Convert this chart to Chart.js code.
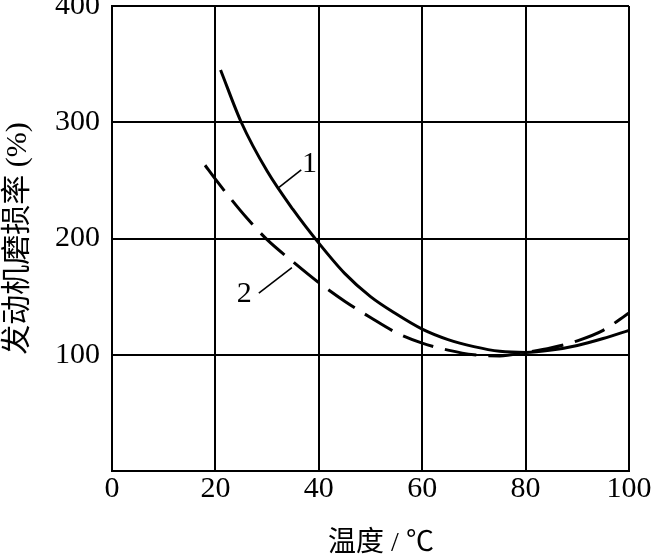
<!DOCTYPE html>
<html>
<head>
<meta charset="utf-8">
<script src="https://cdn.jsdelivr.net/npm/chart.js@4/dist/chart.umd.min.js"></script>
<style>
  body { margin: 0; background: #fff; }
  #wrap { width: 652px; height: 556px; }
</style>
</head>
<body>
<div id="wrap"><canvas id="chart" width="652" height="556"></canvas></div>
<script>
// curve 1 (solid)
const temp1 = [21, 25, 30, 35, 40, 45, 50, 55, 60, 65, 70, 75, 80, 85, 90, 95, 100];
const wear1 = [345, 300, 258, 225, 196, 170, 150, 135, 122, 113, 107, 103, 102, 104, 108, 114, 121];

// curve 2 (dashed)
const temp2 = [18, 20, 23, 26, 30, 35, 40, 45, 50, 55, 60, 65, 70, 75, 80, 85, 90, 95, 100];
const wear2 = [263, 251, 234, 218, 199, 180, 162, 146, 132, 119, 110, 104, 100, 99, 102, 106, 112, 121, 136];

const xTicks = [0, 20, 40, 60, 80, 100];
const yTicks = [100, 200, 300, 400];

// curve labels: [text, label x, label y, leader from x, from y, to x, to y]
const curveLabels = [
    ["1", 38.2, 264, 32.3, 244, 36.6, 259],
    ["2", 25.6, 152, 28.4, 153, 34.8, 175]
];

const serif = "'Liberation Serif', 'DejaVu Serif', serif";
const cjk = "'Liberation Serif', 'Noto Sans CJK SC', serif";

function toPoints(xs, ys){
    return xs.map((x, i) => ({x: x, y: ys[i]}));
}

// =========================
// label plugin
// =========================
const labelPlugin = {
    id: "curveLabels",
    afterDatasetsDraw(chart){
        const ctx = chart.ctx;
        const xs = chart.scales.x;
        const ys = chart.scales.y;
        ctx.save();
        ctx.strokeStyle = "#000";
        ctx.fillStyle = "#000";
        ctx.lineWidth = 1.6;
        ctx.font = "30px " + serif;
        ctx.textAlign = "center";
        ctx.textBaseline = "middle";
        curveLabels.forEach(l => {
            ctx.beginPath();
            ctx.moveTo(xs.getPixelForValue(l[3]), ys.getPixelForValue(l[4]));
            ctx.lineTo(xs.getPixelForValue(l[5]), ys.getPixelForValue(l[6]));
            ctx.stroke();
            ctx.fillText(l[0], xs.getPixelForValue(l[1]), ys.getPixelForValue(l[2]));
        });
        ctx.restore();
    }
};

new Chart(document.getElementById("chart"), {
    type: "line",
    data: {
        datasets: [
            {
                data: toPoints(temp1, wear1),
                borderColor: "#000",
                borderWidth: 3,
                pointRadius: 0,
                cubicInterpolationMode: "monotone",
                fill: false
            },
            {
                data: toPoints(temp2, wear2),
                borderColor: "#000",
                borderWidth: 3,
                borderDash: [32, 12],
                pointRadius: 0,
                cubicInterpolationMode: "monotone",
                fill: false
            }
        ]
    },
    options: {
        responsive: false,
        devicePixelRatio: 1,
        animation: false,
        layout: { padding: { top: 6, right: 23, bottom: 0, left: 0 } },
        plugins: {
            legend: { display: false },
            tooltip: { enabled: false }
        },
        scales: {
            x: {
                type: "linear",
                min: 0,
                max: 100,
                afterBuildTicks: s => { s.ticks = xTicks.map(v => ({value: v})); },
                afterFit: s => {
                    s.height = 85;
                    s.paddingLeft = 0;
                    s.paddingRight = 0;
                },
                grid: { color: "#000", lineWidth: 2, drawTicks: false },
                border: { color: "#000", width: 2 },
                ticks: {
                    color: "#000",
                    padding: 5,
                    font: { family: serif, size: 30, lineHeight: 0.9 }
                },
                title: {
                    display: true,
                    text: "\u00a0\u00a0\u00a0温度 / ℃",
                    color: "#000",
                    padding: { top: 0, bottom: -4 },
                    font: { family: cjk, size: 28 }
                }
            },
            y: {
                min: 0,
                max: 400,
                afterBuildTicks: s => { s.ticks = [0].concat(yTicks).map(v => ({value: v})); },
                afterFit: s => {
                    s.width = 112;
                    s.paddingTop = 0;
                    s.paddingBottom = 0;
                },
                grid: { color: "#000", lineWidth: 2, drawTicks: false },
                border: { color: "#000", width: 2 },
                ticks: {
                    color: "#000",
                    padding: 12,
                    callback: v => v === 0 ? "" : v,
                    font: { family: serif, size: 30, lineHeight: 0.4 }
                },
                title: {
                    display: true,
                    text: "发动机磨损率 (%)",
                    color: "#000",
                    padding: { top: 0, bottom: 0 },
                    font: { family: cjk, size: 30 }
                }
            }
        }
    },
    plugins: [labelPlugin]
});
</script>
</body>
</html>
